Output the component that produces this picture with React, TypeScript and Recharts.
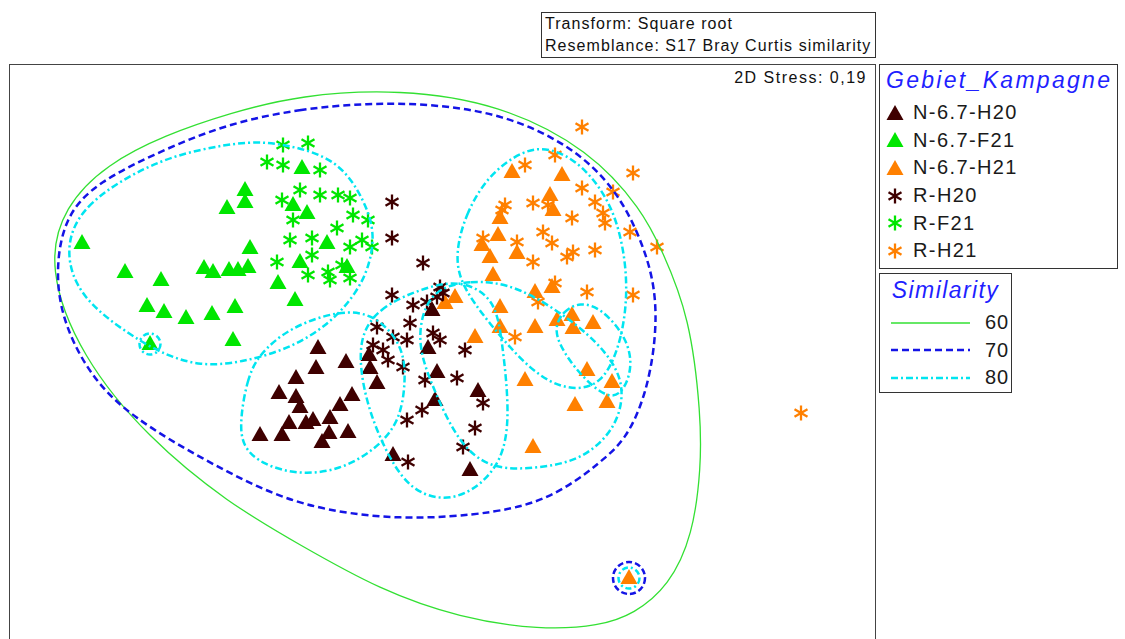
import { ScatterChart, Scatter, XAxis, YAxis } from "recharts";

// ─── Sample positions (MDS space) ─────────────
type Pt = [number, number];

const N67_H20: Pt[] = [
  [318, 348], [346, 362], [316, 368], [296, 378], [369, 355], [370, 368], [377, 383],
  [279, 393], [296, 397], [352, 395], [340, 405], [300, 407], [289, 423], [306, 423],
  [313, 420], [330, 418], [329, 433], [322, 442], [348, 432], [260, 435], [282, 435],
  [393, 455], [432, 310], [428, 348], [437, 372], [435, 400], [478, 391], [470, 470],
];
const N67_F21: Pt[] = [
  [82, 243], [125, 272], [161, 280], [147, 306], [164, 312], [186, 318], [212, 314],
  [204, 268], [213, 272], [229, 270], [238, 270], [248, 267], [235, 307], [233, 340],
  [150, 344], [227, 208], [245, 190], [245, 202], [250, 248], [302, 168], [293, 205],
  [307, 213], [327, 243], [300, 262], [347, 267], [278, 283], [295, 300],
];
const N67_H21: Pt[] = [
  [512, 172], [562, 175], [550, 195], [553, 210], [500, 218], [498, 235], [482, 245],
  [490, 257], [517, 253], [493, 275], [535, 292], [552, 287], [455, 297], [445, 303],
  [500, 307], [500, 327], [535, 327], [557, 320], [572, 315], [573, 328], [593, 323],
  [475, 337], [525, 380], [587, 370], [612, 382], [607, 402], [575, 405], [533, 447],
  [629, 578],
];
const R_H20: Pt[] = [
  [392, 202], [392, 238], [423, 263], [392, 295], [440, 287], [443, 293], [413, 305],
  [427, 302], [437, 297], [410, 323], [433, 333], [440, 340], [407, 340], [388, 360],
  [403, 367], [425, 380], [457, 378], [465, 350], [483, 403], [475, 428], [463, 447],
  [422, 410], [407, 420], [408, 462], [377, 327], [393, 337], [373, 345], [383, 350],
];
const R_F21: Pt[] = [
  [283, 145], [308, 143], [267, 162], [283, 165], [320, 170], [300, 190], [282, 200],
  [320, 195], [338, 195], [350, 198], [293, 220], [353, 215], [368, 220], [337, 228],
  [290, 240], [312, 238], [350, 247], [362, 240], [372, 247], [277, 262], [312, 255],
  [308, 275], [328, 272], [330, 280], [342, 265], [350, 278],
];
const R_H21: Pt[] = [
  [582, 127], [525, 165], [555, 155], [633, 173], [582, 188], [613, 192], [595, 202],
  [603, 213], [605, 223], [572, 218], [505, 205], [533, 203], [548, 205], [502, 210],
  [543, 232], [552, 243], [483, 238], [517, 242], [533, 262], [567, 257], [573, 252],
  [595, 250], [630, 232], [657, 247], [555, 283], [587, 292], [633, 295], [538, 302],
  [515, 337], [801, 413],
];

// ─── Similarity contours (outline vertices, clockwise) ─────────────────
const SIM60: Pt[] = [
  [230, 113], [300, 95], [400, 89], [500, 104], [590, 150], [642, 210], [662, 250],
  [690, 317], [701, 417], [701, 467], [693, 535], [669, 586], [634, 614], [600, 626],
  [540, 630], [460, 618], [380, 590], [300, 545], [228, 503], [148, 438], [81, 357],
  [47, 267], [64, 206], [107, 164], [165, 135],
];
const SIM70: Pt[] = [
  [230, 123], [300, 109], [367, 103], [433, 104], [502, 114], [569, 144], [616, 188],
  [643, 243], [656, 290], [656, 340], [646, 395], [626, 440], [600, 462], [587, 473],
  [550, 498], [500, 513], [400, 521], [300, 507], [228, 473], [148, 428], [97, 387],
  [64, 327], [55, 274], [64, 217], [97, 182], [165, 149],
];
const SIM80_A: Pt[] = [
  [64, 252], [80, 206], [148, 164], [200, 149], [250, 141], [285, 144], [339, 159],
  [366, 203], [375, 235], [369, 267], [357, 292], [332, 322], [292, 348], [240, 363],
  [200, 366], [165, 355], [131, 336], [80, 298],
];
const SIM80_B: Pt[] = [
  [240, 420], [247, 380], [258, 355], [290, 327], [340, 310], [375, 314], [403, 345],
  [406, 380], [400, 422], [375, 450], [340, 470], [300, 475], [263, 465], [242, 447],
];
const SIM80_C: Pt[] = [
  [357, 340], [378, 308], [420, 289], [460, 279], [495, 298], [502, 340], [510, 413],
  [503, 462], [472, 493], [440, 501], [408, 488], [384, 449], [364, 397],
];
const SIM80_D: Pt[] = [
  [428, 290], [470, 280], [517, 284], [582, 327], [613, 360], [625, 390], [616, 429],
  [582, 460], [540, 468], [495, 470], [465, 450], [445, 415], [430, 380], [416, 340],
];
const SIM80_E: Pt[] = [
  [455, 255], [465, 215], [488, 175], [523, 150], [550, 147], [582, 164], [610, 201],
  [623, 243], [628, 290], [622, 340], [603, 386], [567, 391], [531, 372], [488, 322],
  [461, 285],
];
const SIM80_F: Pt[] = [
  [553, 330], [563, 311], [580, 302], [601, 308], [625, 335], [633, 363], [625, 390],
  [610, 400], [585, 380], [565, 355],
];
// single-sample clusters (drawn as rings)
const RING80: Pt[] = [[150, 344], [629, 578]];
const RING70: Pt[] = [[629, 578]];

const GROUPS = [
  { name: "N-6.7-H20", color: "#3f0000", marker: "tri", pts: N67_H20 },
  { name: "N-6.7-F21", color: "#00e600", marker: "tri", pts: N67_F21 },
  { name: "N-6.7-H21", color: "#ff8000", marker: "tri", pts: N67_H21 },
  { name: "R-H20", color: "#3f0000", marker: "star", pts: R_H20 },
  { name: "R-F21", color: "#00e600", marker: "star", pts: R_F21 },
  { name: "R-H21", color: "#ff8000", marker: "star", pts: R_H21 },
];

const C60 = "#33e033";
const C70 = "#1414e6";
const C80 = "#00e5f0";
const DASH70 = "7 4";
const DASH80 = "7 3 2 3";

const toData = (pts: Pt[]) => pts.map(([x, y]) => ({ x, y }));

// ─── Marker shapes ───────────────────────────────────────
function triPath(cx: number, cy: number) {
  return `M${cx},${cy - 9}L${cx + 8.5},${cy + 6}L${cx - 8.5},${cy + 6}Z`;
}
function starPath(cx: number, cy: number) {
  const r = 7.5;
  const dx = r * 0.866;
  const dy = r * 0.5;
  return `M${cx},${cy - r}V${cy + r}M${cx - dx},${cy - dy}L${cx + dx},${cy + dy}M${cx - dx},${cy + dy}L${cx + dx},${cy - dy}`;
}

const makeShape = (marker: string, color: string) => (props: any) => {
  const { cx, cy } = props;
  if (cx == null || cy == null) return <g />;
  return marker === "tri" ? (
    <path d={triPath(cx, cy)} fill={color} />
  ) : (
    <path d={starPath(cx, cy)} stroke={color} strokeWidth={2.3} fill="none" />
  );
};

const hidden = () => <g />;

const ring = (r: number, color: string, dash: string) => (props: any) => (
  <circle cx={props.cx} cy={props.cy} r={r} fill="none" stroke={color} strokeWidth={2.5} strokeDasharray={dash} />
);

function LegendMarker({ marker, color }: { marker: string; color: string }) {
  return (
    <svg width={20} height={20} style={{ display: "block" }}>
      <path d={marker === "tri" ? triPath(10, 11) : starPath(10, 10)} fill={marker === "tri" ? color : "none"} stroke={marker === "tri" ? "none" : color} strokeWidth={2.3} />
    </svg>
  );
}

const FONT = "'Liberation Sans', Arial, sans-serif";

export default function App() {
  const contour = (pts: Pt[], key: string, stroke: string, width: number, dash?: string) => (
    <Scatter
      key={key}
      data={toData(pts)}
      shape={hidden}
      line={{ stroke, strokeWidth: width, strokeDasharray: dash, fill: "none" }}
      lineType="joint"
      lineJointType="basisClosed"
      isAnimationActive={false}
    />
  );

  return (
    <div style={{ position: "relative", width: 1125, height: 639, overflow: "hidden", fontFamily: FONT, background: "#fff" }}>
      <style>{`body{margin:0}`}</style>

      {/* Header box */}
      <div style={{ position: "absolute", left: 541, top: 12, width: 330, height: 44, border: "1.5px solid #333", fontSize: 16, lineHeight: "22px", letterSpacing: 1.05, color: "#111", paddingLeft: 3, boxSizing: "content-box", whiteSpace: "nowrap" }}>
        <div>Transform: Square root</div>
        <div>Resemblance: S17 Bray Curtis similarity</div>
      </div>

      {/* Plot */}
      <div style={{ position: "absolute", left: 9, top: 64 }}>
        <ScatterChart width={867} height={640} margin={{ top: 0, right: 0, bottom: 0, left: 0 }}>
          <XAxis type="number" dataKey="x" domain={[9, 876]} hide allowDataOverflow />
          <YAxis type="number" dataKey="y" domain={[64, 704]} reversed hide allowDataOverflow />
          {GROUPS.map((g) => (
            <Scatter key={g.name} name={g.name} data={toData(g.pts)} shape={makeShape(g.marker, g.color)} isAnimationActive={false} />
          ))}
          {contour(SIM60, "s60", C60, 1.3)}
          {contour(SIM70, "s70", C70, 2.5, DASH70)}
          {contour(SIM80_A, "s80a", C80, 2.5, DASH80)}
          {contour(SIM80_B, "s80b", C80, 2.5, DASH80)}
          {contour(SIM80_C, "s80c", C80, 2.5, DASH80)}
          {contour(SIM80_D, "s80d", C80, 2.5, DASH80)}
          {contour(SIM80_E, "s80e", C80, 2.5, DASH80)}
          {contour(SIM80_F, "s80f", C80, 2.5, DASH80)}
          <Scatter data={toData(RING70)} shape={ring(16, C70, "6 3")} isAnimationActive={false} />
          <Scatter data={toData(RING80)} shape={ring(10.5, C80, "6 3 2 3")} isAnimationActive={false} />
        </ScatterChart>
      </div>
      <div style={{ position: "absolute", left: 9, top: 64, width: 865, height: 640, border: "1.5px solid #444", pointerEvents: "none" }} />
      <div style={{ position: "absolute", right: 1125 - 867, top: 69, fontSize: 16, letterSpacing: 1.5, color: "#111", whiteSpace: "nowrap" }}>2D Stress: 0,19</div>

      {/* Sample legend */}
      <div style={{ position: "absolute", left: 879, top: 64, width: 237, height: 203, border: "1.5px solid #333" }}>
        <div style={{ color: "#1f1fff", fontStyle: "italic", fontSize: 23, lineHeight: "26px", letterSpacing: 2.3, marginTop: 2, marginBottom: 6, marginLeft: 6, whiteSpace: "nowrap" }}>Gebiet_Kampagne</div>
        {GROUPS.map((g) => (
          <div key={g.name} style={{ display: "flex", alignItems: "center", height: 27.6, marginLeft: 5 }}>
            <LegendMarker marker={g.marker} color={g.color} />
            <span style={{ fontSize: 20, letterSpacing: 1.4, color: "#1a1a1a", marginLeft: 8 }}>{g.name}</span>
          </div>
        ))}
      </div>

      {/* Contour legend */}
      <div style={{ position: "absolute", left: 879, top: 273, width: 131, height: 118, border: "1.5px solid #333" }}>
        <div style={{ color: "#1f1fff", fontStyle: "italic", fontSize: 23, lineHeight: "26px", letterSpacing: 1.4, marginTop: 3, marginBottom: 6, textAlign: "center", whiteSpace: "nowrap" }}>Similarity</div>
        {[
          { label: "60", color: C60, dash: undefined, w: 1.3 },
          { label: "70", color: C70, dash: DASH70, w: 2.5 },
          { label: "80", color: C80, dash: DASH80, w: 2.5 },
        ].map((s) => (
          <div key={s.label} style={{ display: "flex", alignItems: "center", height: 27.5, marginLeft: 11 }}>
            <svg width={80} height={10} style={{ display: "block" }}>
              <line x1={0} y1={5} x2={79} y2={5} stroke={s.color} strokeWidth={s.w} strokeDasharray={s.dash} />
            </svg>
            <span style={{ fontSize: 20, letterSpacing: 1, color: "#1a1a1a", marginLeft: 14 }}>{s.label}</span>
          </div>
        ))}
      </div>
    </div>
  );
}
